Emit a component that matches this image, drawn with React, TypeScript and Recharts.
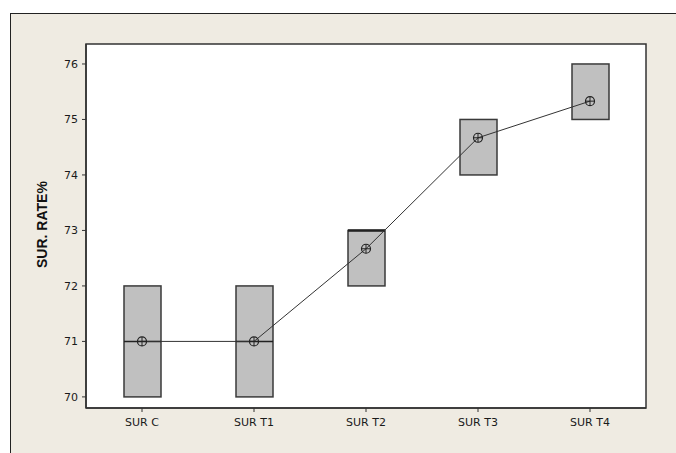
import React from 'react';
import {
  ComposedChart,
  Bar,
  Line,
  XAxis,
  YAxis
} from 'recharts';

const groups = ['SUR C', 'SUR T1', 'SUR T2', 'SUR T3', 'SUR T4'];
const boxLow = [70, 70, 72, 74, 75];
const boxHigh = [72, 72, 73, 75, 76];
const medians: Array<number | null> = [71, 71, 73, null, null];
const means = [71, 71, 72.67, 74.67, 75.33];
const yTicks = [70, 71, 72, 73, 74, 75, 76];

const data = groups.map((name, i) => ({
  name,
  range: [boxLow[i], boxHigh[i]],
  low: boxLow[i],
  high: boxHigh[i],
  median: medians[i],
  mean: means[i]
}));

const BoxShape = (props: any) => {
  const { x, y, width, height, payload } = props;
  const top = Math.min(y, y + height);
  const h = Math.abs(height);
  let medY: number | null = null;
  if (payload.median != null) {
    medY = top + (h * (payload.high - payload.median)) / (payload.high - payload.low);
  }
  return (
    <g>
      <rect x={x} y={top} width={width} height={h} fill="#C0C0C0" stroke="#3a3a3a" strokeWidth={1.5} />
      {medY != null && (
        <line x1={x} x2={x + width} y1={medY} y2={medY} stroke="#222" strokeWidth={payload.median === payload.high ? 2.5 : 1.5} />
      )}
    </g>
  );
};

const MeanDot = (props: any) => {
  const { cx, cy } = props;
  if (cx == null || cy == null) return null;
  return (
    <g>
      <circle cx={cx} cy={cy} r={4.5} fill="none" stroke="#222" strokeWidth={1.2} />
      <line x1={cx - 4.5} x2={cx + 4.5} y1={cy} y2={cy} stroke="#222" strokeWidth={1} />
      <line x1={cx} x2={cx} y1={cy - 4.5} y2={cy + 4.5} stroke="#222" strokeWidth={1} />
    </g>
  );
};

const tickStyle = { fontFamily: 'Tahoma, "DejaVu Sans", sans-serif', fontSize: 11, fill: '#1a1a1a' };

export default function App() {
  return (
    <div style={{ position: 'absolute', left: 0, top: 0, width: 676, height: 453, background: '#fff', overflow: 'hidden' }}>
      <div
        style={{
          position: 'absolute',
          left: 10,
          top: 13,
          width: 700,
          height: 480,
          background: '#EFEBE2',
          border: '1.5px solid #222',
          boxSizing: 'border-box'
        }}
      />
      <div style={{ position: 'absolute', left: 0, top: 0 }}>
        <ComposedChart
          width={676}
          height={453}
          data={data}
          margin={{ top: 44, right: 30, bottom: 15, left: 46 }}
          barCategoryGap={0}
        >
          <rect x={86} y={44} width={560} height={364} fill="#fff" />
          <XAxis
            dataKey="name"
            tick={tickStyle}
            tickSize={4}
            tickMargin={6}
            axisLine={{ stroke: '#333', strokeWidth: 1.5 }}
            tickLine={{ stroke: '#333' }}
            height={30}
          />
          <YAxis
            domain={[69.8, 76.36]}
            ticks={yTicks}
            allowDataOverflow
            tick={tickStyle}
            tickSize={4}
            tickMargin={4}
            axisLine={{ stroke: '#333', strokeWidth: 1.5 }}
            tickLine={{ stroke: '#333' }}
            width={40}
            label={{
              value: 'SUR. RATE%',
              angle: -90,
              position: 'insideLeft',
              dx: -9,
              dy: 42,
              style: { fontFamily: 'Arial, "Liberation Sans", sans-serif', fontSize: 14, fontWeight: 'bold', fill: '#111' }
            }}
          />
          <Bar dataKey="range" barSize={37} shape={<BoxShape />} isAnimationActive={false} />
          <Line
            dataKey="mean"
            stroke="#333"
            strokeWidth={1}
            dot={<MeanDot />}
            activeDot={false}
            isAnimationActive={false}
          />
          <rect x={86} y={44} width={560} height={364} fill="none" stroke="#333" strokeWidth={1.5} />
        </ComposedChart>
      </div>
    </div>
  );
}
